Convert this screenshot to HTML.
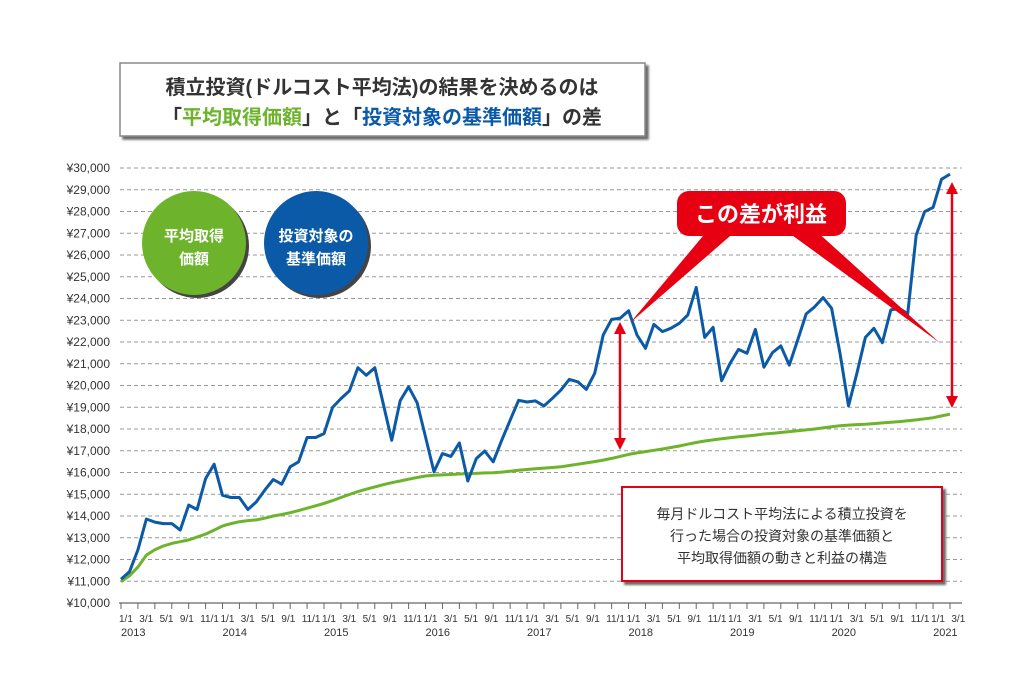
<!DOCTYPE html>
<html><head><meta charset="utf-8">
<style>
body{margin:0;background:#fff;width:1024px;height:689px;overflow:hidden;font-family:"Liberation Sans","Noto Sans CJK JP",sans-serif}
svg{display:block}
text{font-family:"Liberation Sans","Noto Sans CJK JP",sans-serif}
</style></head><body>
<svg id="chart" width="1024" height="689" viewBox="0 0 1024 689" xmlns="http://www.w3.org/2000/svg">
<defs>
<filter id="sh" x="-20%" y="-20%" width="150%" height="150%"><feDropShadow dx="3" dy="3" stdDeviation="1" flood-color="#444" flood-opacity="0.8"/></filter>
</defs>
<g>
<rect x="120" y="63" width="525" height="73" fill="#fff" stroke="#888" stroke-width="1.5" filter="url(#sh)"/>
<text x="382" y="94" text-anchor="middle" font-size="20" font-weight="bold" fill="#333">積立投資(ドルコスト平均法)の結果を決めるのは</text>
<text x="382" y="124" text-anchor="middle" font-size="20" font-weight="bold" fill="#333">「<tspan fill="#6db42c">平均取得価額</tspan>」と「<tspan fill="#0b5aa8">投資対象の基準価額</tspan>」の差</text>
</g>
<g id="grid"></g>
<g id="yaxis"></g>
<g id="xaxis"></g>
<g>
<circle cx="197" cy="246" r="52" fill="#444"/>
<circle cx="194" cy="243" r="52" fill="#6db42c"/>
<text x="194" y="241" text-anchor="middle" font-size="15" font-weight="bold" fill="#fff">平均取得</text>
<text x="194" y="264" text-anchor="middle" font-size="15" font-weight="bold" fill="#fff">価額</text>
</g>
<g>
<circle cx="319" cy="246" r="52" fill="#444"/>
<circle cx="316" cy="243" r="52" fill="#0b5aa8"/>
<text x="316" y="241" text-anchor="middle" font-size="15" font-weight="bold" fill="#fff">投資対象の</text>
<text x="316" y="264" text-anchor="middle" font-size="15" font-weight="bold" fill="#fff">基準価額</text>
</g>
<g id="series"></g>
<g>
<polygon points="708,230 737,230 630,323" fill="#e60012"/>
<polygon points="785,230 815,230 940,343" fill="#e60012"/>
<rect x="677" y="191" width="169" height="45" rx="12" fill="#e60012"/>
<text x="761" y="222" text-anchor="middle" font-size="22" font-weight="bold" fill="#fff">この差が利益</text>
</g>
<g fill="#e60012" stroke="#e60012">
<line x1="620" y1="330" x2="620" y2="442" stroke-width="2.5"/>
<polygon points="620,322 614,334 626,334" stroke="none"/>
<polygon points="620,450 614,438 626,438" stroke="none"/>
</g>
<g fill="#e60012" stroke="#e60012">
<line x1="952" y1="190" x2="952" y2="400" stroke-width="2.5"/>
<polygon points="952,182 946,194 958,194" stroke="none"/>
<polygon points="952,408 946,396 958,396" stroke="none"/>
</g>
<g>
<rect x="622" y="487" width="320" height="94" fill="#fff" stroke="#e60012" stroke-width="2" filter="url(#sh)"/>
<text x="782" y="519" text-anchor="middle" font-size="14" fill="#333">毎月ドルコスト平均法による積立投資を</text>
<text x="782" y="541" text-anchor="middle" font-size="14" fill="#333">行った場合の投資対象の基準価額と</text>
<text x="782" y="563" text-anchor="middle" font-size="14" fill="#333">平均取得価額の動きと利益の構造</text>
</g>
</svg>
<script>
const yTicks=[10000,11000,12000,13000,14000,15000,16000,17000,18000,19000,20000,21000,22000,23000,24000,25000,26000,27000,28000,29000,30000];
const monthLabels=["1/1","3/1","5/1","9/1","11/1"];
const years=["2013","2014","2015","2016","2017","2018","2019","2020","2021"];
const basePrice=[11090,11440,12440,13860,13720,13650,13650,13350,14500,14300,15720,16380,14950,14850,14850,14300,14650,15190,15680,15460,16260,16490,17610,17610,17790,18990,19400,19750,20820,20470,20820,19170,17480,19300,19940,19210,17640,16030,16870,16740,17360,15610,16640,16990,16490,17480,18400,19320,19240,19290,19060,19410,19790,20280,20170,19820,20560,22320,23040,23090,23440,22320,21710,22810,22480,22630,22860,23240,24510,22210,22670,20220,21020,21660,21480,22580,20840,21510,21820,20940,22090,23290,23620,24040,23550,21480,19060,20560,22210,22630,21970,23470,23550,23290,26920,27990,28190,29480,29720];
const avgPrice=[10980,11250,11650,12200,12450,12620,12740,12820,12900,13030,13170,13350,13540,13650,13740,13790,13820,13900,14000,14070,14150,14250,14360,14470,14580,14710,14850,14990,15120,15230,15340,15440,15530,15610,15690,15770,15840,15870,15890,15910,15930,15950,15960,15980,15990,16020,16060,16100,16140,16170,16200,16230,16260,16320,16380,16440,16500,16570,16650,16740,16830,16900,16960,17020,17080,17150,17220,17300,17380,17450,17500,17550,17600,17640,17680,17720,17770,17800,17840,17880,17920,17960,18000,18050,18100,18150,18180,18200,18220,18250,18280,18310,18340,18380,18420,18470,18520,18600,18680];

const NS="http://www.w3.org/2000/svg";
const X0=121,X1=950,Y0=603,Y1=168,VMIN=10000,VMAX=30000,N=98;
function xs(i){return X0+(X1-X0)*i/N;}
function ys(v){return Y0-(Y0-Y1)*(v-VMIN)/(VMAX-VMIN);}
function mk(tag,attrs,parent){const e=document.createElementNS(NS,tag);for(const k in attrs)e.setAttribute(k,attrs[k]);parent.appendChild(e);return e;}
const grid=document.getElementById('grid'),yax=document.getElementById('yaxis'),xax=document.getElementById('xaxis'),ser=document.getElementById('series');
yTicks.forEach(v=>{
  if(v>VMIN){
    const l=mk('line',{x1:120,x2:962,y1:ys(v),y2:ys(v),stroke:'#999','stroke-width':1,'stroke-dasharray':'4,3'},grid);
    
    
  }
  const t=mk('text',{x:110,y:ys(v)+4,'text-anchor':'end','font-size':12,fill:'#333'},yax);
  t.textContent='¥'+v.toLocaleString('en-US');
  
  
});
const ax=mk('line',{x1:119,x2:962,y1:Y0,y2:Y0,stroke:'#666','stroke-width':1.2},xax);


for(let i=0;i<=N;i+=2){
  const tk=mk('line',{x1:xs(i),x2:xs(i),y1:Y0,y2:Y0+6,stroke:'#666','stroke-width':1},xax);
  
  
}
const step=(xs(12)-xs(0))/5;
years.forEach((yr,yi)=>{
  const base=xs(yi*12);
  const n=(yi===years.length-1)?2:5;
  for(let j=0;j<n;j++){
    const t=mk('text',{x:base-2+j*step,y:622,'font-size':10,fill:'#333'},xax);
    t.textContent=monthLabels[j];
    
    
  }
  const t=mk('text',{x:base,y:636,'font-size':11,fill:'#333'},xax);
  t.textContent=yr;
  
  
});
function line(data,color,name){
  const p=mk('polyline',{points:data.map((v,i)=>xs(i).toFixed(1)+','+ys(v).toFixed(1)).join(' '),fill:'none',stroke:color,'stroke-width':3,'stroke-linejoin':'round'},ser);
  
  
}
line(avgPrice,'#6db42c','average-price-line');
line(basePrice,'#0b5aa8','base-price-line');
</script>
</body></html>
